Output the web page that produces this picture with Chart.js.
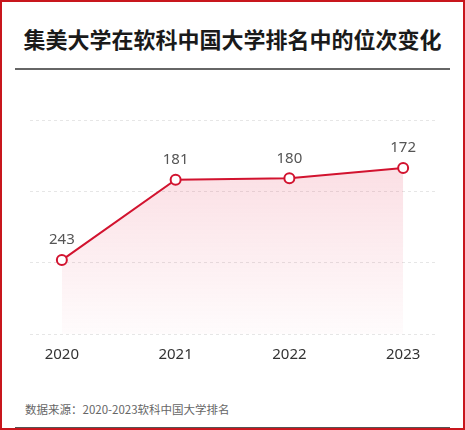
<!DOCTYPE html>
<html>
<head>
<meta charset="utf-8">
<script src="https://cdn.jsdelivr.net/npm/chart.js@4/dist/chart.umd.min.js"></script>
<style>
  html, body { margin: 0; padding: 0; background: #fff; }
  #frame {
    position: relative;
    width: 465px; height: 430px;
    box-sizing: border-box;
    border: 2px solid #c8161d;
    overflow: hidden;
    font-family: "Noto Sans CJK SC", "Noto Sans", sans-serif;
  }
  #title {
    position: absolute; left: 0; right: 0; top: 21px;
    text-align: center;
    font-size: 22px; font-weight: bold; color: #1a1a1a;
    line-height: 30px;
  }
  .rule { position: absolute; left: 13px; right: 13px; background: #666; }
  #rule1 { top: 66px; height: 1.5px; }
  #rule2 { top: 425px; height: 2px; background: #555; }
  #source {
    position: absolute; left: 23px; top: 399px;
    font-size: 11.5px; color: #666; line-height: 16px;
  }
  #wrap { position: absolute; left: -2px; top: 73px; width: 465px; height: 293px; }
</style>
</head>
<body>
<div id="frame">
  <div id="title">集美大学在软科中国大学排名中的位次变化</div>
  <div class="rule" id="rule1"></div>
  <div id="wrap"><canvas id="rankChart"></canvas></div>
  <div id="source">数据来源：2020-2023软科中国大学排名</div>
  <div class="rule" id="rule2"></div>
</div>
<script>
  // ranking of Jimei University, 2020-2023
  const years = ['2020', '2021', '2022', '2023'];
  const ranks = [243, 181, 180, 172];

  const red = '#d2132f';

  // numbers above each point
  const pointLabels = {
    id: 'pointLabels',
    afterDatasetsDraw(chart) {
      const ctx = chart.ctx;
      const meta = chart.getDatasetMeta(0);
      ctx.save();
      ctx.font = '15px "Noto Sans", sans-serif';
      ctx.fillStyle = '#555';
      ctx.textAlign = 'center';
      ctx.textBaseline = 'middle';
      meta.data.forEach(function(pt, i) {
        ctx.fillText(ranks[i], pt.x, pt.y - 20);
      });
      ctx.restore();
    }
  };

  const config = {
    type: 'line',
    data: {
      datasets: [{
        data: ranks.map(function(r, i) { return { x: i, y: r }; }),
        borderColor: red,
        borderWidth: 2,
        pointRadius: 5,
        pointBorderWidth: 2,
        pointBackgroundColor: '#fff',
        pointBorderColor: red,
        tension: 0,
        fill: { value: 300 },
        backgroundColor: function(context) {
          const area = context.chart.chartArea;
          if (!area) return 'rgba(230,60,90,0.15)';
          const g = context.chart.ctx.createLinearGradient(0, area.top + 40, 0, area.bottom);
          g.addColorStop(0, 'rgba(232,70,100,0.18)');
          g.addColorStop(1, 'rgba(232,70,100,0.02)');
          return g;
        }
      }]
    },
    options: {
      responsive: true,
      maintainAspectRatio: false,
      animation: false,
      layout: { padding: { top: 45, left: 30, right: 30, bottom: 0 } },
      scales: {
        x: {
          type: 'linear',
          min: -0.28,
          max: 3.28,
          afterBuildTicks: function(scale) {
            scale.ticks = years.map(function(y, i) { return { value: i }; });
          },
          ticks: {
            padding: 4,
            color: '#333',
            autoSkip: false,
            font: { size: 15, family: '"Noto Sans", sans-serif' },
            callback: function(v) { return years[v]; }
          },
          grid: { display: false },
          border: { display: false }
        },
        y: {
          reverse: true,
          min: 135,
          max: 300,
          ticks: { display: false, stepSize: 55 },
          grid: { color: '#e6e6e6', drawTicks: false },
          border: { display: false, dash: [3, 3] }
        }
      },
      plugins: {
        legend: { display: false },
        tooltip: { enabled: false }
      }
    },
    plugins: [pointLabels]
  };

  new Chart(document.getElementById('rankChart'), config);
</script>
</body>
</html>
